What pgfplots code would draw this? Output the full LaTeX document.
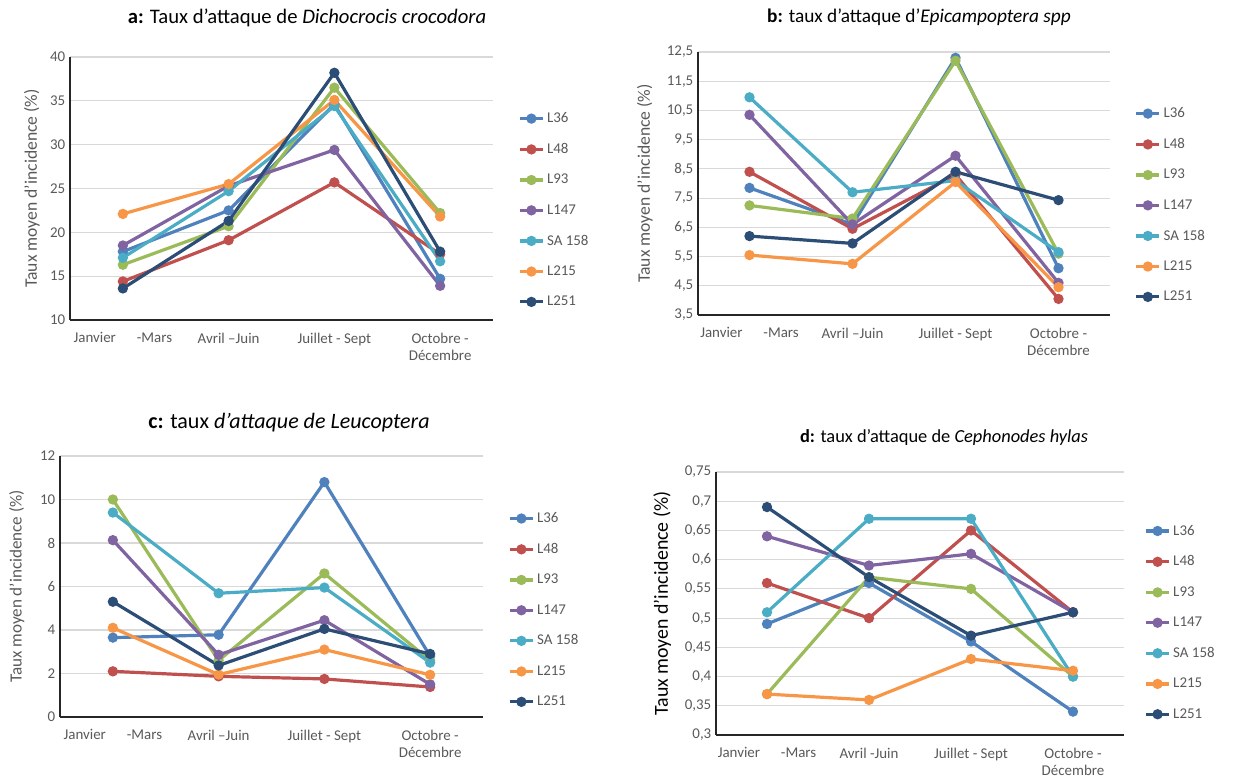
\documentclass[border=0pt]{standalone}
\usepackage{fontspec}
\setmainfont{Carlito}
\usepackage{pgfplots}
\pgfplotsset{compat=1.18}
\usepackage{pgfplotstable}

\definecolor{cA}{HTML}{4F81BD}
\definecolor{cB}{HTML}{C0504D}
\definecolor{cC}{HTML}{9BBB59}
\definecolor{cD}{HTML}{8064A2}
\definecolor{cE}{HTML}{4BACC6}
\definecolor{cF}{HTML}{F79646}
\definecolor{cG}{HTML}{2C4D75}
\definecolor{tickgray}{HTML}{595959}
\definecolor{gridgray}{HTML}{D9D9D9}

\pgfplotstableread{
x L36 L48 L93 L147 SA158 L215 L251
0 17.8 14.4 16.3 18.5 17.1 22.1 13.6
1 22.5 19.1 20.7 25.3 24.7 25.5 21.3
2 34.6 25.7 36.5 29.4 34.4 35.1 38.2
3 14.7 17.5 22.2 13.9 16.7 21.8 17.8
}\tabA

\pgfplotstableread{
x L36 L48 L93 L147 SA158 L215 L251
0 7.85 8.4 7.25 10.35 10.95 5.55 6.2
1 6.6 6.45 6.8 6.6 7.7 5.25 5.95
2 12.3 8.3 12.2 8.95 8.1 8.05 8.4
3 5.1 4.05 5.6 4.6 5.65 4.45 7.43
}\tabB

\pgfplotstableread{
x L36 L48 L93 L147 SA158 L215 L251
0 3.65 2.1 10.0 8.13 9.4 4.1 5.3
1 3.78 1.87 2.6 2.86 5.69 1.95 2.37
2 10.8 1.75 6.6 4.45 5.95 3.1 4.05
3 2.8 1.38 2.6 1.5 2.5 1.94 2.9
}\tabC

\pgfplotstableread{
x L36 L48 L93 L147 SA158 L215 L251
0 0.49 0.56 0.37 0.64 0.51 0.37 0.69
1 0.56 0.50 0.57 0.59 0.67 0.36 0.57
2 0.46 0.65 0.55 0.61 0.67 0.43 0.47
3 0.34 0.51 0.40 0.51 0.40 0.41 0.51
}\tabD

\newcommand{\allseries}[1]{%
  \addplot[cA] table[x=x,y=L36]{#1}; \addlegendentry{L36}
  \addplot[cB] table[x=x,y=L48]{#1}; \addlegendentry{L48}
  \addplot[cC] table[x=x,y=L93]{#1}; \addlegendentry{L93}
  \addplot[cD] table[x=x,y=L147]{#1}; \addlegendentry{L147}
  \addplot[cE] table[x=x,y=SA158]{#1}; \addlegendentry{SA 158}
  \addplot[cF] table[x=x,y=L215]{#1}; \addlegendentry{L215}
  \addplot[cG] table[x=x,y=L251]{#1}; \addlegendentry{L251}
}

\pgfplotsset{
  panel/.style={
    scale only axis, anchor=north west,
    xmin=-0.5, xmax=3.5, xtick={0,1,2,3},
    axis x line*=bottom, axis y line*=left,
    axis line style={line width=1.1pt, color=black!85, -},
    major tick length=0pt,
    ymajorgrids, grid style={gridgray, line width=0.9pt},
    tick label style={font=\fontsize{11.2}{13}\selectfont, text=tickgray},
    x tick label style={align=center, yshift=-6pt},
    /pgf/number format/assume math mode=true,
    ylabel={Taux moyen d'incidence (\%)},
    ylabel style={font=\fontsize{13.2}{15}\selectfont, text=tickgray, anchor=center},
    legend cell align=left,
    legend style={draw=none, fill=none, anchor=north west,
      font=\fontsize{11.2}{13}\selectfont, text=tickgray, row sep=10pt},
    every axis plot/.append style={line width=2.4pt, mark=*, mark size=2.6pt, mark options={solid}},
  }
}

\begin{document}
\begin{tikzpicture}
\path[use as bounding box] (0,0) rectangle (930.75pt,-585pt);

% panel a
\begin{axis}[panel, at={(52.5pt,-42.75pt)}, width=317.25pt, height=197.25pt,
  ymin=10, ymax=40, ytick={10,15,20,25,30,35,40},
  xticklabels={Janvier\hspace{1.4em}-Mars, Avril –Juin, Juillet - Sept, {Octobre -\\Décembre}},
  ylabel style={at={(axis description cs:-0.09,0.5)}},
  legend style={at={(1.05,0.81)}}]
\allseries{\tabA}
\end{axis}

% panel b
\begin{axis}[panel, at={(523.5pt,-39pt)}, width=309pt, height=197.25pt,
  ymin=3.5, ymax=12.5, ytick={3.5,4.5,5.5,6.5,7.5,8.5,9.5,10.5,11.5,12.5},
  yticklabel style={/pgf/number format/.cd, fixed, fixed zerofill, precision=1, use comma},
  xticklabels={Janvier\hspace{1.4em}-Mars, Avril –Juin, Juillet - Sept, {Octobre -\\Décembre}},
  ylabel style={at={(axis description cs:-0.129,0.5)}},
  legend style={at={(1.05,0.81)}}]
\allseries{\tabB}
\end{axis}

% panel c
\begin{axis}[panel, at={(45pt,-342pt)}, width=317.25pt, height=195.75pt,
  ymin=0, ymax=12, ytick={0,2,4,6,8,10,12},
  xticklabels={Janvier\hspace{1.4em}-Mars, Avril –Juin, Juillet - Sept, {Octobre -\\Décembre}},
  ylabel style={at={(axis description cs:-0.102,0.5)}, font=\fontsize{12.8}{15}\selectfont},
  legend style={at={(1.05,0.805)}}]
\allseries{\tabC}
\end{axis}

% panel d
\begin{axis}[panel, at={(537pt,-354pt)}, width=306pt, height=197.25pt,
  ymin=0.3, ymax=0.75, ytick={0.3,0.35,0.4,0.45,0.5,0.55,0.6,0.65,0.7,0.75},
  yticklabel style={/pgf/number format/.cd, fixed, precision=2, use comma},
  xticklabels={Janvier\hspace{1.4em}-Mars, Avril -Juin, Juillet - Sept, {Octobre -\\Décembre}},
  ylabel style={at={(axis description cs:-0.132,0.5)}, text=black, font=\fontsize{14.9}{17}\selectfont},
  legend style={at={(1.04,0.82)}}]
\allseries{\tabD}
\end{axis}

% titles
\node[font=\fontsize{15.5}{18}\selectfont] at (230.25pt,-13.5pt) {\textbf{a:} Taux d'attaque de \textit{Dichocrocis crocodora}};
\node[font=\fontsize{14.5}{17}\selectfont] at (689.25pt,-12.75pt) {\textbf{b:} taux d'attaque d'\textit{Epicampoptera spp}};
\node[font=\fontsize{16.5}{19}\selectfont] at (216.75pt,-317.25pt) {\textbf{c:} taux \textit{d'attaque de Leucoptera}};
\node[font=\fontsize{13.8}{16}\selectfont] at (708pt,-327.75pt) {\textbf{d:} taux d'attaque de \textit{Cephonodes hylas}};
\end{tikzpicture}
\end{document}
